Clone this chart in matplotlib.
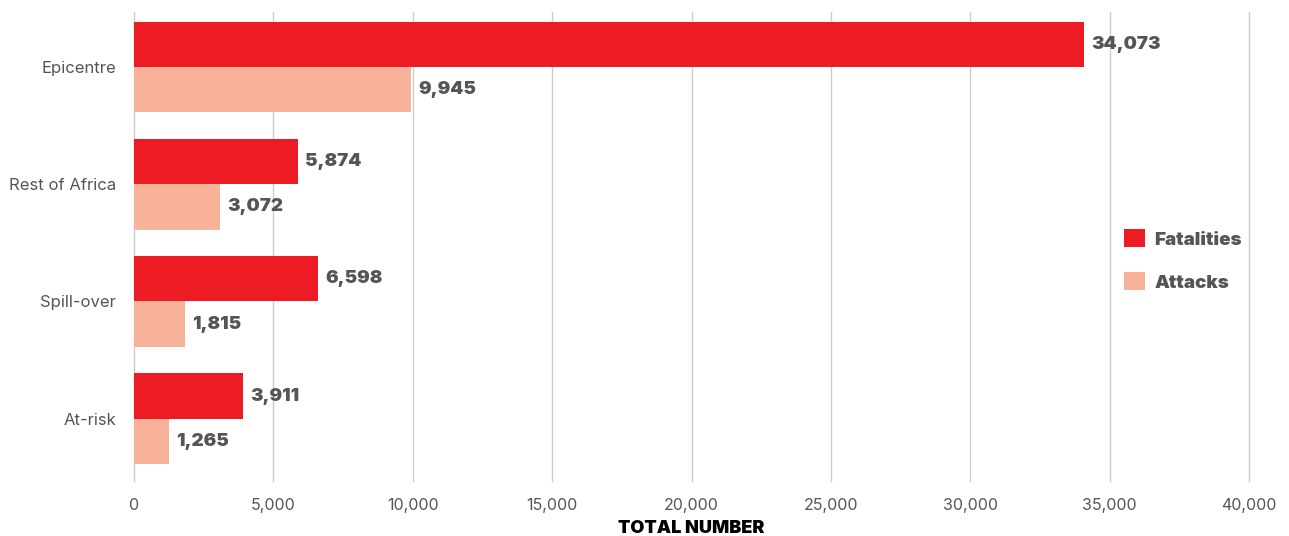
import numpy as np
import matplotlib.pyplot as plt

# data
regions = ["Epicentre", "Rest of Africa", "Spill-over", "At-risk"]
fatalities = [34073, 5874, 6598, 3911]
attacks = [9945, 3072, 1815, 1265]
x_ticks = [0, 5000, 10000, 15000, 20000, 25000, 30000, 35000, 40000]

RED = "#ED1C24"
PINK = "#F8B299"
GREY = "#555555"

plt.rcParams["font.family"] = ["Inter", "DejaVu Sans"]

fig = plt.figure(figsize=(12.89, 5.36), dpi=100)
ax = fig.add_axes([0.104, 0.1026, 0.865, 0.875])

y = np.arange(len(regions))
h = 0.386
ax.barh(y - h / 2, fatalities, height=h, color=RED, label="Fatalities", zorder=3)
ax.barh(y + h / 2, attacks, height=h, color=PINK, label="Attacks", zorder=3)

for yi, v in zip(y, fatalities):
    ax.text(v + 260, yi - h / 2, f"{v:,}", va="center", ha="left",
            fontsize=13.5, fontweight="black", color=GREY)
for yi, v in zip(y, attacks):
    ax.text(v + 260, yi + h / 2, f"{v:,}", va="center", ha="left",
            fontsize=13.5, fontweight="black", color=GREY)

ax.set_xlim(0, 40000)
ax.set_ylim(3.531, -0.469)
ax.set_xticks(x_ticks)
ax.set_xticklabels([f"{t:,}" for t in x_ticks])
ax.set_yticks(y)
ax.set_yticklabels(regions)
ax.tick_params(axis="both", length=0, labelsize=11.5, colors=GREY)
ax.tick_params(axis="x", pad=12)
ax.tick_params(axis="y", pad=13, labelsize=12)
ax.grid(axis="x", color="#cccccc", linewidth=1, zorder=0)
for line in ax.get_xgridlines():
    line.set_clip_on(False)
for s in ax.spines.values():
    s.set_visible(False)

ax.set_xlabel("TOTAL NUMBER", fontsize=13, fontweight="black", color="black", labelpad=5)

leg = ax.legend(loc="center left", bbox_to_anchor=(0.873, 0.47), frameon=False,
                fontsize=13.5, handlelength=1.1, handleheight=1.1, labelspacing=1.25,
                handletextpad=0.5)
for t in leg.get_texts():
    t.set_fontweight("black")
    t.set_color(GREY)

fig.savefig("out.png", dpi=100)
